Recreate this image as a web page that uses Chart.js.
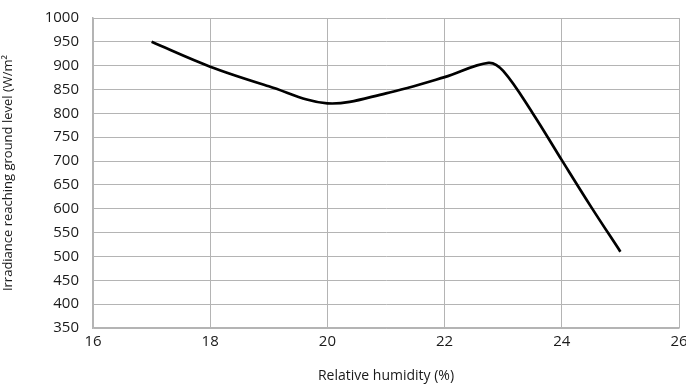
<!DOCTYPE html>
<html>
<head>
<meta charset="utf-8">
<script src="https://cdn.jsdelivr.net/npm/chart.js@4/dist/chart.umd.min.js"></script>
<style>
  html, body { margin: 0; padding: 0; background: #fff; }
  #wrap { width: 686px; height: 384px; position: relative; }
</style>
</head>
<body>
<div id="wrap"><canvas id="c" width="686" height="384"></canvas></div>
<script>
const humidity = [17, 18, 19, 20, 21, 22, 22.75, 23, 23.5, 24, 24.5, 25];
const irradiance = [950, 898, 857, 821, 842, 876, 906, 889, 801, 702, 604, 510];
const xTicks = [16, 18, 20, 22, 24, 26];
const yMin = 350, yMax = 1000, yStep = 50;
const xTitle = 'Relative humidity (%)';
const yTitle = 'Irradiance reaching ground level (W/m²';

const points = humidity.map((h, i) => ({ x: h, y: irradiance[i] }));
const fontFam = '"Open Sans", "DejaVu Sans", sans-serif';
const gridCol = '#b4b4b4';

new Chart(document.getElementById('c'), {
  type: 'line',
  data: {
    datasets: [{
      data: points,
      borderColor: '#000',
      borderWidth: 2.7,
      pointRadius: 0,
      fill: false,
      tension: 0.35
    }]
  },
  options: {
    responsive: false,
    animation: false,
    devicePixelRatio: 1,
    layout: { padding: { left: 0, top: 18, right: 7, bottom: 0 } },
    plugins: { legend: { display: false }, tooltip: { enabled: false } },
    scales: {
      x: {
        type: 'linear',
        min: xTicks[0],
        max: xTicks[xTicks.length - 1],
        afterBuildTicks: (s) => { s.ticks = xTicks.map(v => ({ value: v })); },
        grid: { color: gridCol, lineWidth: 1, drawTicks: false },
        border: { color: gridCol, width: 1.5 },
        ticks: { color: '#1a1a1a', font: { family: fontFam, size: 15 }, padding: 5, maxRotation: 0 },
        title: { display: true, text: xTitle, color: '#1a1a1a', font: { family: fontFam, size: 14 }, padding: { top: 8, bottom: 0 } },
        afterFit: (s) => { s.height = 56; s.paddingLeft = 0; s.paddingRight = 0; }
      },
      y: {
        min: yMin,
        max: yMax,
        ticks: { stepSize: yStep, color: '#1a1a1a', font: { family: fontFam, size: 15 }, padding: 14,
                 callback: (v) => String(v) },
        grid: { color: gridCol, lineWidth: 1, drawTicks: false },
        border: { color: gridCol, width: 1.5 },
        title: { display: true, text: yTitle, color: '#1a1a1a', font: { family: fontFam, size: 13 }, padding: { top: 0, bottom: 6 } },
        afterFit: (s) => { s.width = 93; s.paddingTop = 0; s.paddingBottom = 0; }
      }
    }
  }
});
</script>
</body>
</html>
